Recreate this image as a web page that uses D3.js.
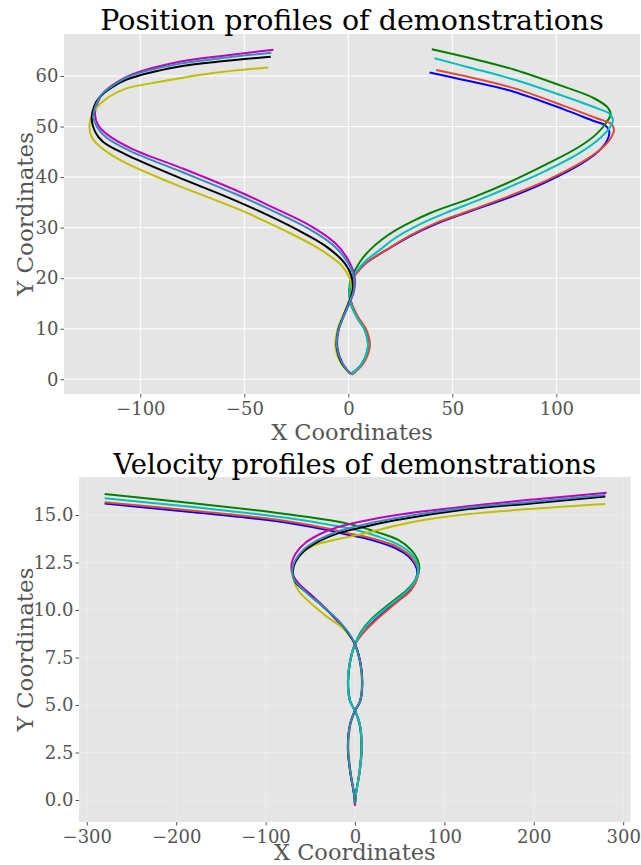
<!DOCTYPE html>
<html>
<head>
<meta charset="utf-8">
<script src="https://cdn.jsdelivr.net/npm/d3@7"></script>
<style>
  body { margin: 0; background: #ffffff; }
</style>
</head>
<body>
<div id="canvas"></div>
<script>
// ---- position profiles, one array per demonstration, [x, y] ----
const posBlue = [[1.4,1.1],[6.2,2.9],[9.6,6.4],[8.4,9.7],[4.3,12.4],[1.3,15.3],[0.9,17.7],[2.2,20.2],[4.5,21.3],[8.5,23.0],[18.4,25.6],[29.6,28.3],[42,30.7],[57,33.0],[79.5,36.3],[95.5,39.1],[111,42.4],[120.5,45.2],[124.6,47.4],[125.4,49.1],[123.3,50.3],[118,51.1],[103.6,53.4],[79.5,56.9],[58,59.0],[39,60.7]];
const posRed = [[1.6,1.0],[6.8,2.9],[10.3,6.4],[8.8,9.7],[4.6,12.4],[1.4,15.3],[1.0,17.7],[2.5,20.2],[5,21.5],[9,23.2],[19.5,25.9],[30,28.5],[42,30.9],[57.3,33.2],[79.5,36.6],[95.6,39.4],[111.2,42.7],[121,45.4],[125.8,47.5],[127.7,49.3],[126.5,50.5],[119.7,51.6],[103.6,54.1],[79.5,57.6],[58,59.8],[42.2,61.2]];
const posCyan = [[1.4,1.1],[6.3,3.0],[9.4,6.4],[7.9,9.7],[3.9,12.4],[1.0,15.3],[0.6,17.7],[1.8,20.2],[4.0,21.4],[8.5,23.5],[15.2,25.6],[21,27.5],[27.2,29.1],[36,31.0],[47.3,33.0],[63.4,35.6],[79.5,38.4],[95.6,41.4],[111.2,44.8],[121.5,47.9],[126,50.0],[127.2,51.4],[125.3,52.6],[119.7,53.6],[103.6,56.0],[79.5,59.3],[58,61.7],[41.4,63.5]];
const posGreen = [[1.6,0.9],[6.4,3.0],[9.4,6.4],[7.9,9.7],[3.9,12.4],[0.9,15.3],[0.4,17.7],[1.2,20.0],[3.2,21.6],[6.2,23.6],[10.4,25.6],[16,27.6],[22.4,29.4],[30,31.1],[40,33.0],[60,36.0],[80,39.5],[96,42.7],[111,46.0],[119.5,48.6],[124,50.8],[126.1,52.4],[124.8,53.7],[118.1,55.6],[103.6,57.9],[79.5,61.3],[58,63.6],[40.1,65.3]];
const posMagenta = [[1.2,1.0],[-2.8,3.2],[-5.3,6.4],[-4.7,9.7],[-2.3,12.4],[0.8,15.3],[2.8,17.6],[3.0,20.3],[0.5,23.2],[-6,26.8],[-18,30.3],[-37.3,34.2],[-53,37.2],[-79,41.6],[-104,45.6],[-115.5,48.3],[-120.3,50.3],[-121.8,52.5],[-120.5,54.8],[-117.5,56.8],[-111.5,58.7],[-104,60.3],[-80,62.9],[-56,64.2],[-36,65.2]];
const posSteel = [[1.0,1.1],[-3.0,3.2],[-5.5,6.4],[-4.8,9.7],[-2.4,12.4],[0.6,15.3],[2.6,17.6],[2.6,20.3],[-0.3,23.1],[-7.5,26.6],[-20,30],[-39.3,33.9],[-55,36.8],[-80.5,41.1],[-105,45.2],[-116.5,47.9],[-121,50],[-122.6,52.1],[-121.2,54.4],[-118.5,56.4],[-112.5,58.3],[-105.5,59.9],[-81.5,62.4],[-57.5,63.7],[-37,64.6]];
const posBlack = [[0.8,1.2],[-3.2,3.2],[-5.6,6.4],[-4.9,9.7],[-2.5,12.4],[0.4,15.4],[2.1,17.7],[1.6,20.3],[-1.6,22.9],[-10.4,26.2],[-24.2,29.5],[-44.1,33.5],[-58.5,36.1],[-82.5,40.1],[-106.6,44.4],[-118,47],[-121.8,49],[-123.4,51.6],[-122.2,54.0],[-119.4,55.9],[-113.5,57.8],[-106.6,59.3],[-82.5,61.8],[-58.5,63.0],[-37.3,63.8]];
const posYellow = [[0.5,1.2],[-3.6,3.2],[-6.2,6.4],[-5.3,9.7],[-2.8,12.4],[0.2,15.3],[1.8,17.5],[0.8,19.8],[-3,22.4],[-14,25.8],[-30.5,29.4],[-52,33.5],[-63,35.3],[-86,39],[-109,43.2],[-119,45.9],[-123.2,47.8],[-124.5,50],[-123.3,52.2],[-121,53.8],[-115,55.9],[-107,57.5],[-90,58.9],[-65,60.6],[-38.5,61.7]];

// ---- velocity profiles ----
const velBlue = [[-280,15.6],[-181,15.15],[-110,14.8],[-69,14.54],[-28,14.18],[-9.3,13.97],[9.3,13.8],[30,13.52],[46.6,13.22],[60,12.82],[67,12.4],[69.7,12.0],[67,11.5],[61.5,11.05],[48,10.5],[35.4,10.0],[22,9.45],[9,8.8],[0,8.2],[-5.4,7.3],[-7.8,6.2],[-5.4,5.2],[0,4.7],[5.2,4.0],[7.5,2.8],[5.2,1.5],[1,0.3],[0,-0.2]];
const velRed = [[-280,15.67],[-181,15.22],[-110,14.88],[-69,14.62],[-28,14.26],[-9.3,14.05],[9.3,13.88],[30,13.62],[46.6,13.33],[60,12.92],[68,12.45],[71,12.0],[68,11.45],[62,11.0],[48,10.45],[35.4,9.95],[22,9.4],[9,8.8],[0,8.2],[-5.6,7.3],[-8,6.2],[-5.6,5.2],[0,4.7],[5.4,4.0],[7.8,2.8],[5.4,1.5],[1,0.3],[0,-0.3]];
const velCyan = [[-280,15.88],[-181,15.42],[-110,15.05],[-69,14.8],[-28,14.48],[0,14.22],[25,13.88],[48,13.45],[63,12.95],[70,12.4],[70.5,12.0],[67,11.5],[57,10.95],[38,10.22],[18,9.45],[6,8.75],[0,8.2],[-5.5,7.3],[-7.9,6.2],[-5.5,5.2],[0,4.7],[5.2,4.0],[7.4,2.8],[5.2,1.5],[1,0.3],[0,-0.2]];
const velGreen = [[-280,16.1],[-181,15.62],[-110,15.25],[-69,15.0],[-28,14.72],[0,14.45],[25,14.1],[48,13.7],[63,13.15],[70,12.65],[72,12.2],[69,11.7],[58,11.05],[38,10.3],[18,9.5],[6,8.8],[0,8.2],[-5.3,7.3],[-7.6,6.2],[-5.3,5.2],[0,4.7],[5,4.0],[7.2,2.8],[5,1.5],[1,0.3],[0,-0.2]];
const velMagenta = [[281.5,16.17],[200,15.82],[121,15.44],[46.6,15.0],[5.6,14.65],[-20,14.35],[-39,14.0],[-55,13.55],[-66,13.0],[-70.8,12.45],[-70,11.9],[-63,11.4],[-46.6,10.7],[-33,10.1],[-20.5,9.45],[-8,8.8],[0,8.2],[5.6,7.3],[8,6.2],[5.6,5.2],[0,4.7],[-5.2,4.0],[-7.7,2.8],[-5.2,1.5],[-1,0.3],[0,-0.3]];
const velSteel = [[280,16.05],[200,15.7],[121,15.36],[46.6,14.84],[5,14.44],[-20,14.12],[-40,13.72],[-57,13.2],[-67,12.6],[-70,12.1],[-68,11.6],[-55,10.95],[-37,10.25],[-19,9.45],[-7,8.8],[0,8.2],[5.7,7.3],[8.1,6.2],[5.7,5.2],[0,4.7],[-5.3,4.0],[-7.9,2.8],[-5.3,1.5],[-1,0.3],[0,-0.2]];
const velBlack = [[280,15.97],[200,15.62],[121,15.28],[46.6,14.74],[5,14.32],[-20,14.02],[-40,13.62],[-57,13.1],[-67,12.5],[-69.5,12.0],[-67,11.5],[-53,10.88],[-35,10.15],[-18,9.4],[-7,8.75],[0,8.2],[5.8,7.3],[8.2,6.2],[5.8,5.2],[0,4.7],[-5.4,4.0],[-8,2.8],[-5.4,1.5],[-1,0.3],[0,-0.2]];
const velYellow = [[280,15.58],[240,15.46],[200,15.33],[160,15.19],[121,15.02],[80,14.76],[46.6,14.45],[5.6,13.97],[-20,13.72],[-46.6,13.38],[-60,12.98],[-67,12.55],[-70,12.1],[-68.5,11.55],[-63,11.0],[-48,10.3],[-31.6,9.65],[-15,9.1],[-5,8.6],[0,8.2],[5.4,7.3],[7.8,6.2],[5.4,5.2],[0,4.7],[-5,4.0],[-7.4,2.8],[-5,1.5],[-1,0.3],[0,-0.2]];

// tick values
const posXTicks = [-100, -50, 0, 50, 100];
const posYTicks = [0, 10, 20, 30, 40, 50, 60];
const velXTicks = [-300, -200, -100, 0, 100, 200, 300];
const velYTicks = [0, 2.5, 5, 7.5, 10, 12.5, 15];

const seriesColors = ["#0000FF", "#008000", "#E24A33", "#00BFBF", "#BF00BF", "#BFBF00", "#000000", "#348ABD"];
const posSeries = [posBlue, posGreen, posRed, posCyan, posMagenta, posYellow, posBlack, posSteel];
const velSeries = [velBlue, velGreen, velRed, velCyan, velMagenta, velYellow, velBlack, velSteel];

const w = 641;
const h = 865;
const serif = "'DejaVu Serif', serif";

const svg = d3.select("#canvas")
              .append("svg")
              .attr("id", "chart")
              .attr("width", w)
              .attr("height", h);

function render(p, id){
  const x = d3.scaleLinear().domain(p.xDomain).range([p.left, p.right]);
  const y = d3.scaleLinear().domain(p.yDomain).range([p.bottom, p.top]);
  const g = svg.append("g").attr("class", "panel");

  g.append("rect")
   .attr("x", p.left).attr("y", p.top)
   .attr("width", p.right - p.left).attr("height", p.bottom - p.top)
   .attr("fill", "#E5E5E5");

  // grid
  g.selectAll(".vgrid").data(p.xTicks).join("line")
   .attr("x1", d => x(d)).attr("x2", d => x(d))
   .attr("y1", p.top).attr("y2", p.bottom)
   .attr("stroke", p.gridColor).attr("stroke-width", 1);
  g.selectAll(".hgrid").data(p.yTicks).join("line")
   .attr("y1", d => y(d)).attr("y2", d => y(d))
   .attr("x1", p.left).attr("x2", p.right)
   .attr("stroke", p.gridColor).attr("stroke-width", 1);

  const xAxis = d3.axisBottom(x).tickValues(p.xTicks).tickSize(3.5).tickPadding(4.5).tickFormat(p.xFormat);
  const yAxis = d3.axisLeft(y).tickValues(p.yTicks).tickSize(3.5).tickPadding(2).tickFormat(p.yFormat);

  function styleAxis(sel){
    sel.select(".domain").remove();
    sel.attr("font-family", serif).attr("font-size", 18);
    sel.selectAll("line").attr("stroke", "#555555");
    sel.selectAll("text").attr("fill", "#555555");
  }
  g.append("g").attr("transform", "translate(0," + p.bottom + ")").call(xAxis).call(styleAxis);
  g.append("g").attr("transform", "translate(" + p.left + ",0)").call(yAxis).call(styleAxis);

  // clip to the plot box
  g.append("clipPath").attr("id", id)
   .append("rect")
   .attr("x", p.left).attr("y", p.top)
   .attr("width", p.right - p.left).attr("height", p.bottom - p.top);

  const line = d3.line()
                 .x(d => x(d[0]))
                 .y(d => y(d[1]))
                 .curve(d3.curveCatmullRom.alpha(0.5));

  g.append("g").attr("clip-path", "url(#" + id + ")")
   .selectAll("path").data(p.series).join("path")
   .attr("d", d => line(d))
   .attr("fill", "none")
   .attr("stroke", (d, i) => seriesColors[i])
   .attr("stroke-width", 2)
   .attr("stroke-linejoin", "round");

  const cx = (p.left + p.right) / 2;
  g.append("text")
   .attr("x", cx).attr("y", p.titleY)
   .attr("text-anchor", "middle")
   .attr("font-family", serif).attr("font-size", p.titleSize)
   .attr("fill", "#000000")
   .text(p.title);
  g.append("text")
   .attr("x", cx).attr("y", p.xLabelY)
   .attr("text-anchor", "middle")
   .attr("font-family", serif).attr("font-size", 22.5)
   .attr("fill", "#555555")
   .text("X Coordinates");
  g.append("text")
   .attr("transform", "translate(33," + ((p.top + p.bottom) / 2) + ") rotate(-90)")
   .attr("text-anchor", "middle")
   .attr("font-family", serif).attr("font-size", 23)
   .attr("fill", "#555555")
   .text("Y Coordinates");
}

render({
  left: 64, right: 640, top: 34, bottom: 394,
  xDomain: [-136.7, 140.2], yDomain: [-2.91, 68.31],
  xTicks: posXTicks, yTicks: posYTicks,
  xFormat: d3.format("d"), yFormat: d3.format("d"),
  gridColor: "#FFFFFF",
  series: posSeries,
  title: "Position profiles of demonstrations",
  titleY: 30, titleSize: 28.5, xLabelY: 440
}, "clipPos");

render({
  left: 79, right: 630.6, top: 477, bottom: 822,
  xDomain: [-308.7, 308.3], yDomain: [-1.158, 17.0],
  xTicks: velXTicks, yTicks: velYTicks,
  xFormat: d3.format("d"), yFormat: d3.format(".1f"),
  gridColor: "#ECECEC",
  series: velSeries,
  title: "Velocity profiles of demonstrations",
  titleY: 474, titleSize: 27.4, xLabelY: 860
}, "clipVel");
</script>
</body>
</html>
